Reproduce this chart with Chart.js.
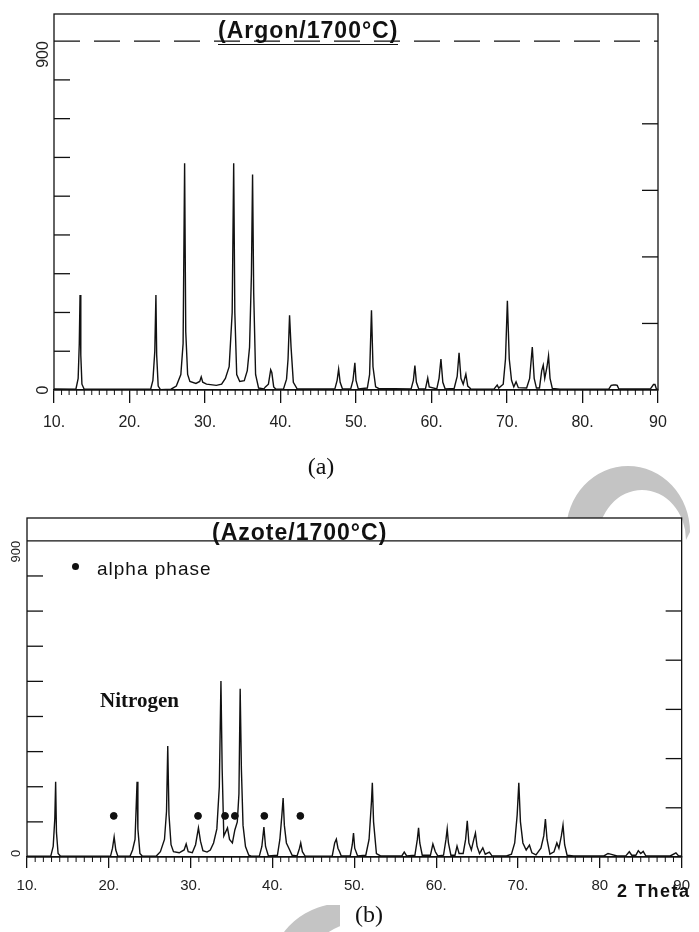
<!DOCTYPE html>
<html>
<head>
<meta charset="utf-8">
<script src="https://cdn.jsdelivr.net/npm/chart.js@4.4.1/dist/chart.umd.min.js"></script>
<style>
  body { margin: 0; background: #fff; }
  #page { position: relative; width: 699px; height: 932px; overflow: hidden; }
  canvas { position: absolute; left: 0; }
  .txt { position: absolute; white-space: nowrap; line-height: 1; color: #111; }
  .ttl { font: bold 23px "Liberation Sans", Arial, sans-serif; letter-spacing: 1px; }
  .cap { font: 24px "Liberation Serif", "Times New Roman", serif; transform: translate(-50%, -50%); }
</style>
</head>
<body>
<div id="page">
  <canvas id="argonChart" width="699" height="460" style="top:0"></canvas>
  <canvas id="azoteChart" width="699" height="472" style="top:460px"></canvas>

  <div class="txt ttl" style="left:218px;top:17px;border-bottom:1.3px solid #111">(Argon/1700°C)</div>
  <div class="txt cap" style="left:321px;top:466px">(a)</div>

  <div class="txt ttl" style="left:212px;top:519px">(Azote/1700°C)</div>
  <div class="txt" style="left:72px;top:563px;width:7px;height:7px;border-radius:50%;background:#111"></div>
  <div class="txt" style="left:97px;top:558px;font:19px 'Liberation Sans',Arial,sans-serif;letter-spacing:1px">alpha phase</div>
  <div class="txt" style="left:100px;top:688px;font:bold 21px 'Liberation Serif','Times New Roman',serif">Nitrogen</div>
  <div class="txt" style="left:617px;top:881px;font:bold 18px 'Liberation Sans',Arial,sans-serif;letter-spacing:1.5px">2 Theta</div>
  <div class="txt cap" style="left:369px;top:914px">(b)</div>
</div>

<script>
// ----- Argon / 1700°C pattern (2 theta, counts) -----
const argonTheta = [10, 12.9, 13.2, 13.35, 13.45, 13.55, 13.7, 14,
  22.8, 23.1, 23.35, 23.5, 23.6, 23.8, 24.1,
  25.5, 26.2, 26.8, 27.1, 27.3, 27.45, 27.7, 28.0, 28.8, 29.3, 29.5, 29.7, 30.2, 31.5, 32.2, 32.7,
  33.2, 33.6, 33.8, 33.95, 34.2, 34.6, 35.2, 35.6, 35.9, 36.15, 36.3, 36.45, 36.7, 37.1, 37.8,
  38.0, 38.4, 38.7, 38.85, 39.1, 39.4,
  40.4, 40.8, 41.0, 41.2, 41.4, 41.7, 42.2,
  47.2, 47.5, 47.7, 47.9, 48.2,
  49.3, 49.6, 49.85, 50.0, 50.3,
  51.5, 51.8, 52.05, 52.25, 52.6, 53,
  57.3, 57.6, 57.8, 58.0, 58.3,
  59.2, 59.5, 59.7, 60.7, 61.0, 61.25, 61.5, 61.8,
  63.0, 63.4, 63.65, 63.9, 64.2, 64.55, 64.8, 65.2, 66, 68.3, 68.7, 68.9,
  69.5, 69.8, 70.05, 70.3, 70.6, 70.9, 71.2, 71.5, 72.6, 73.0, 73.35, 73.6, 73.9,
  74.3, 74.6, 74.8, 75.0, 75.3, 75.5, 75.7, 76.0, 77, 80,
  83.5, 83.8, 84.1, 84.4, 84.6, 84.8, 89.0, 89.4, 89.6, 89.8, 90];
const argonCounts = [3, 2, 30, 120, 245, 90, 15, 2,
  2, 25, 100, 245, 90, 10, 1,
  2, 10, 40, 120, 585, 150, 40, 22, 17, 22, 34, 20, 15, 12, 15, 30,
  60, 200, 585, 200, 40, 22, 24, 50, 110, 300, 556, 250, 40, 5, 3,
  8, 15, 52, 45, 8, 2,
  3, 28, 80, 193, 110, 20, 3,
  3, 25, 54, 20, 3,
  3, 25, 70, 25, 3,
  5, 40, 206, 60, 8, 4,
  3, 25, 63, 20, 3,
  3, 31, 8, 3, 30, 80, 20, 3,
  4, 35, 96, 30, 15, 41, 10, 3, 2, 3, 13, 5,
  15, 80, 230, 80, 25, 8, 21, 6, 5, 30, 111, 30, 5,
  5, 50, 64, 30, 60, 88, 30, 4, 2, 2,
  3, 12, 13, 13, 12, 3, 3, 14, 14, 2, 2];

// ----- Azote / 1700°C pattern (2 theta, counts) -----
const azoteTheta = [10, 12.9, 13.2, 13.4, 13.5, 13.6, 13.8, 14.1,
  20.2, 20.45, 20.65, 20.85, 21.1,
  22.6, 22.9, 23.2, 23.45, 23.55, 23.8, 24.1,
  25.8, 26.3, 26.8, 27.05, 27.2, 27.35, 27.6, 27.9, 28.6, 29.2, 29.45, 29.7, 30.2, 30.6, 30.95,
  31.2, 31.5, 32.0, 32.4, 32.8, 33.2, 33.5, 33.7, 33.85, 34.05, 34.5, 34.75, 35.1, 35.4, 35.7,
  35.9, 36.05, 36.2, 36.4, 36.7, 37.1, 37.5,
  38.4, 38.7, 38.95, 39.15, 39.5,
  40.6, 40.9, 41.15, 41.3, 41.45, 41.7, 42.0, 42.4,
  43.0, 43.3, 43.45, 43.65, 44.0,
  47.3, 47.6, 47.8, 48.0, 48.2, 48.4,
  49.5, 49.75, 49.9, 50.05, 50.4,
  51.4, 51.8, 52.1, 52.2, 52.35, 52.7, 53.2,
  55.8, 56.1, 56.4,
  57.4, 57.7, 57.85, 58.0, 58.3,
  59.3, 59.6, 59.9, 60.2,
  60.9, 61.2, 61.35, 61.5, 61.8,
  62.3, 62.55, 62.8, 63.3, 63.6, 63.8, 64.0, 64.3, 64.6, 64.8, 65.0, 65.3, 65.7, 66.0, 66.5, 66.8,
  68.6, 69.2, 69.6, 69.9, 70.1, 70.3, 70.6, 71.0, 71.4, 71.7, 72.2, 72.8, 73.15, 73.35, 73.55, 73.9,
  74.4, 74.75, 75.0, 75.3, 75.5, 75.7, 76.0, 76.8,
  78.5, 80.5, 81.0, 81.3, 82.1, 83.2, 83.6, 83.9, 84.4, 84.7, 85.0, 85.3, 85.6, 88.6, 89.3, 89.6, 90];
const azoteCounts = [2, 2, 30, 110, 214, 70, 10, 2,
  2, 25, 57, 20, 2,
  3, 20, 50, 214, 80, 10, 2,
  3, 15, 50, 130, 316, 120, 35, 15, 12, 20, 37, 15, 12, 35, 83,
  45, 18, 14, 20, 40, 80, 200, 501, 250, 60, 83, 50, 40, 77, 100,
  180, 479, 250, 90, 30, 5, 2,
  3, 30, 85, 30, 3,
  5, 50, 120, 168, 90, 40, 25, 5,
  3, 25, 40, 15, 2,
  3, 40, 51, 25, 15, 3,
  3, 35, 68, 25, 3,
  5, 50, 160, 211, 100, 10, 3,
  3, 14, 3,
  5, 50, 83, 40, 5,
  5, 37, 15, 3,
  5, 50, 80, 40, 5,
  5, 31, 10, 10, 50, 103, 40, 20, 50, 68, 30, 10, 26, 8, 14, 4,
  3, 8, 40, 120, 211, 100, 40, 20, 34, 12, 6, 25, 60, 108, 50, 8,
  15, 40, 25, 60, 91, 35, 5, 3,
  3, 3, 10, 8, 3, 4, 15, 5, 5, 18, 10, 16, 4, 3, 12, 4, 2];

// alpha phase markers
const alphaTheta = [20.6, 30.9, 34.2, 35.4, 39.0, 43.4];
const alphaCounts = [117, 117, 117, 117, 117, 117];

// axis ticks
const xTickStep = 10;
const leftTicks = [100, 200, 300, 400, 500, 600, 700, 800];
const yLabels = [0, 900];
const argonRightTicks = [1, 2, 3, 4];
const azoteRightTicks = [1, 2, 3, 4, 5];

const INK = '#111';
Chart.defaults.font.family = '"Liberation Sans", Arial, sans-serif';
Chart.defaults.color = '#222';

function line(ctx, x1, y1, x2, y2) {
  ctx.beginPath(); ctx.moveTo(x1, y1); ctx.lineTo(x2, y2); ctx.stroke();
}

// frame, inner ticks, minor x ticks, rotated y labels
function framePlugin(cfg) {
  return {
    id: 'frame',
    beforeDraw(chart) {
      const ctx = chart.ctx, a = chart.chartArea;
      ctx.save();
      if (cfg.watermark) cfg.watermark(ctx);
      ctx.fillStyle = '#fff';
      ctx.fillRect(a.left, a.top, a.right - a.left, a.bottom - a.top);
      ctx.restore();
    },
    afterDraw(chart) {
      const ctx = chart.ctx, a = chart.chartArea;
      const x = chart.scales.x, y = chart.scales.y, y2 = chart.scales.y2;
      ctx.save();
      ctx.strokeStyle = INK;
      ctx.lineWidth = 1.3;
      ctx.strokeRect(a.left, a.top, a.right - a.left, a.bottom - a.top);

      const y900 = y.getPixelForValue(900);
      ctx.setLineDash(cfg.dash);
      line(ctx, a.left, y900, a.right, y900);
      ctx.setLineDash([]);

      leftTicks.forEach(v => {
        const py = y.getPixelForValue(v);
        line(ctx, a.left, py, a.left + cfg.tick, py);
      });
      cfg.rightTicks.forEach(v => {
        const py = y2.getPixelForValue(v);
        line(ctx, a.right - cfg.tick, py, a.right, py);
      });

      ctx.lineWidth = 1;
      for (let t = x.min; t <= x.max; t++) {
        if (t % xTickStep === 0) continue;
        const px = x.getPixelForValue(t);
        line(ctx, px, a.bottom, px, a.bottom + 5);
      }

      ctx.fillStyle = '#222';
      ctx.font = cfg.yFont;
      yLabels.forEach((v, i) => {
        ctx.save();
        ctx.translate(a.left - cfg.yGap, y.getPixelForValue(v));
        ctx.rotate(-Math.PI / 2);
        ctx.textAlign = cfg.yAlign[i];
        ctx.textBaseline = 'middle';
        ctx.fillText(String(v), 0, 0);
        ctx.restore();
      });
      ctx.restore();
    }
  };
}

function xrdChart(id, theta, counts, extra, cfg) {
  const datasets = [{
    data: theta.map((t, i) => ({ x: t, y: counts[i] })),
    borderColor: INK,
    borderWidth: 1.4,
    pointRadius: 0,
    tension: 0
  }].concat(extra);

  return new Chart(document.getElementById(id), {
    type: 'line',
    data: { datasets },
    options: {
      responsive: false,
      animation: false,
      layout: { padding: cfg.padding },
      plugins: { legend: { display: false }, tooltip: { enabled: false } },
      scales: {
        x: {
          type: 'linear', min: 10, max: 90,
          afterFit: s => { s.height = cfg.axisHeight; },
          ticks: {
            stepSize: xTickStep, autoSkip: false, maxRotation: 0,
            padding: cfg.labelPad,
            font: { size: cfg.xFontSize },
            callback: cfg.xLabel
          },
          grid: { drawOnChartArea: false, tickLength: cfg.majorTick, color: INK, lineWidth: 1.3 },
          border: { color: INK, width: 1.3 }
        },
        y: { display: false, min: 0, max: cfg.yMax },
        y2: { display: false, position: 'right', min: 0, max: cfg.y2Max }
      }
    },
    plugins: [framePlugin(cfg)]
  });
}

// ----- (a) Argon -----
xrdChart('argonChart', argonTheta, argonCounts, [], {
  padding: { left: 54, right: 41, top: 14, bottom: 0 },
  axisHeight: 70, labelPad: 10, majorTick: 13, xFontSize: 16,
  xLabel: v => (v === 90 ? '90' : v + '.'),
  yMax: 970, y2Max: 5.65, rightTicks: argonRightTicks,
  tick: 16, dash: [26, 14],
  yFont: '16px "Liberation Sans", Arial, sans-serif', yGap: 10, yAlign: ['center', 'right']
});

// ----- (b) Azote -----
xrdChart('azoteChart', azoteTheta, azoteCounts, [{
  data: alphaTheta.map((t, i) => ({ x: t, y: alphaCounts[i] })),
  showLine: false,
  pointRadius: 3.4,
  pointStyle: 'circle',
  pointBackgroundColor: INK,
  pointBorderColor: INK
}], {
  padding: { left: 27, right: 11, top: 58, bottom: 0 },
  axisHeight: 75, labelPad: 9, majorTick: 11, xFontSize: 15,
  xLabel: v => (v >= 80 ? String(v) : v + '.'),
  yMax: 965, y2Max: 6.89, rightTicks: azoteRightTicks,
  tick: 16, dash: [],
  yFont: '13px "Liberation Sans", Arial, sans-serif', yGap: 11, yAlign: ['left', 'right'],
  watermark(ctx) {
    ctx.fillStyle = '#c4c4c4';
    // arch above the frame
    ctx.beginPath();
    ctx.ellipse(628, 72, 62, 66, 0, Math.PI, 2 * Math.PI);
    ctx.ellipse(642, 80, 44, 50, 0, 2 * Math.PI, Math.PI, true);
    ctx.closePath();
    ctx.fill();
    // crescent under the axis labels
    ctx.save();
    ctx.beginPath();
    ctx.rect(0, 445, 340, 30);
    ctx.clip();
    ctx.beginPath();
    ctx.ellipse(345, 505, 72, 62, 0, 0, 2 * Math.PI);
    ctx.ellipse(358, 515, 52, 52, 0, 0, 2 * Math.PI);
    ctx.fill('evenodd');
    ctx.restore();
  }
});
</script>
</body>
</html>
